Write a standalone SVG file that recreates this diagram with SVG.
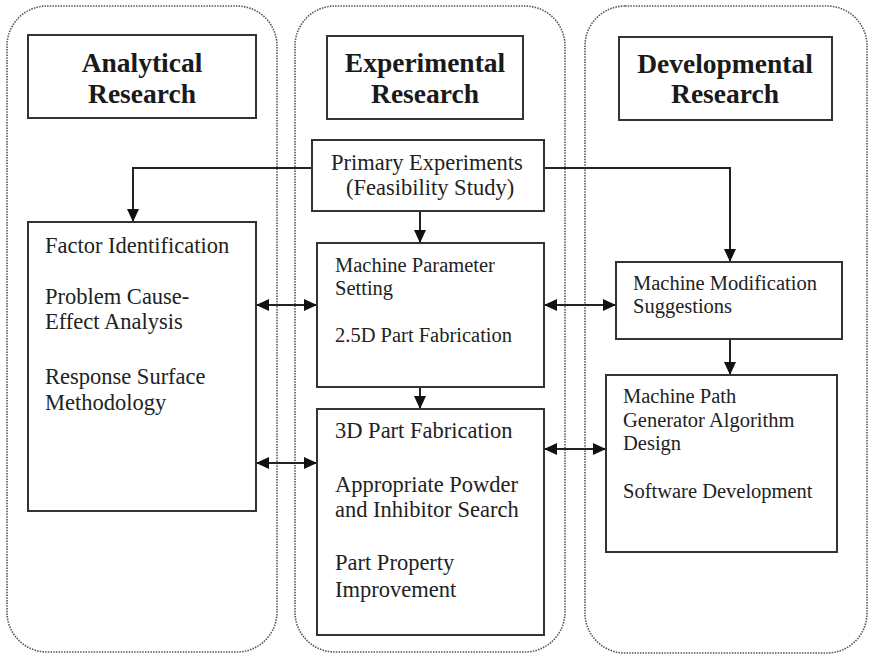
<svg xmlns="http://www.w3.org/2000/svg" width="870" height="656" viewBox="0 0 870 656">
<style>
.cont{fill:none;stroke:#555;stroke-width:1.6;stroke-dasharray:1.5 1.2}
.box{fill:#fff;stroke:#333;stroke-width:2}
.hd{font-family:"Liberation Serif","Times New Roman",serif;font-weight:bold;font-size:27.5px;fill:#1a1a1a;text-anchor:middle}
.t{font-family:"Liberation Serif","Times New Roman",serif;font-size:22.5px;fill:#222}
.s{font-family:"Liberation Serif","Times New Roman",serif;font-size:20.5px;fill:#222}
.c{fill:none;stroke:#222;stroke-width:2}
</style>
<defs>
<marker id="ah" markerUnits="userSpaceOnUse" markerWidth="13" markerHeight="12" viewBox="0 0 13 12" refX="13" refY="6" orient="auto-start-reverse">
<path d="M0,0 L13,6 L0,12 z" fill="#111"/>
</marker>
</defs>
<g id="containers">
<rect class="cont" x="7" y="6" width="270" height="646" rx="40" ry="40"/>
<rect class="cont" x="295" y="6" width="270" height="646" rx="40" ry="40"/>
<rect class="cont" x="585" y="6" width="282" height="647" rx="40" ry="40"/>
</g>
<g id="connectors">
<path class="c" d="M312,168 H133 V222" marker-end="url(#ah)"/>
<path class="c" d="M544,168 H730 V262" marker-end="url(#ah)"/>
<path class="c" d="M420,211 V243" marker-end="url(#ah)"/>
<path class="c" d="M420,387 V409" marker-end="url(#ah)"/>
<path class="c" d="M730,339 V375" marker-end="url(#ah)"/>
<path class="c" d="M256,305 H317" marker-start="url(#ah)" marker-end="url(#ah)"/>
<path class="c" d="M256,463 H317" marker-start="url(#ah)" marker-end="url(#ah)"/>
<path class="c" d="M544,305 H616" marker-start="url(#ah)" marker-end="url(#ah)"/>
<path class="c" d="M544,449 H606" marker-start="url(#ah)" marker-end="url(#ah)"/>
</g>
<g id="analytical-header">
<rect class="box" x="28" y="35" width="228" height="83"/>
<text class="hd" x="142" y="72">Analytical</text>
<text class="hd" x="142" y="103">Research</text>
</g>
<g id="experimental-header">
<rect class="box" x="327" y="36" width="196" height="83"/>
<text class="hd" x="425" y="72">Experimental</text>
<text class="hd" x="425" y="103">Research</text>
</g>
<g id="developmental-header">
<rect class="box" x="619" y="37" width="213" height="83"/>
<text class="hd" x="725" y="73">Developmental</text>
<text class="hd" x="725" y="103">Research</text>
</g>
<g id="primary">
<rect class="box" x="312" y="140" width="232" height="71"/>
<text class="t" x="331" y="170">Primary Experiments</text>
<text class="t" x="346" y="195">(Feasibility Study)</text>
</g>
<g id="factor">
<rect class="box" x="28" y="222" width="228" height="289"/>
<text class="t" x="45" y="253">Factor Identification</text>
<text class="t" x="45" y="304">Problem Cause-</text>
<text class="t" x="45" y="329">Effect Analysis</text>
<text class="t" x="45" y="384">Response Surface</text>
<text class="t" x="45" y="410">Methodology</text>
</g>
<g id="machine-parameter">
<rect class="box" x="317" y="243" width="227" height="144"/>
<text class="s" x="335" y="272">Machine Parameter</text>
<text class="s" x="335" y="295">Setting</text>
<text class="s" x="335" y="342">2.5D Part Fabrication</text>
</g>
<g id="fabrication-3d">
<rect class="box" x="317" y="409" width="227" height="226"/>
<text class="t" x="335" y="438">3D Part Fabrication</text>
<text class="t" x="335" y="492">Appropriate Powder</text>
<text class="t" x="335" y="517">and Inhibitor Search</text>
<text class="t" x="335" y="570">Part Property</text>
<text class="t" x="335" y="597">Improvement</text>
</g>
<g id="machine-modification">
<rect class="box" x="616" y="262" width="226" height="77"/>
<text class="s" x="633" y="290">Machine Modification</text>
<text class="s" x="633" y="313">Suggestions</text>
</g>
<g id="machine-path">
<rect class="box" x="606" y="375" width="231" height="177"/>
<text class="s" x="623" y="403">Machine Path</text>
<text class="s" x="623" y="427">Generator Algorithm</text>
<text class="s" x="623" y="450">Design</text>
<text class="s" x="623" y="498">Software Development</text>
</g>
</svg>
